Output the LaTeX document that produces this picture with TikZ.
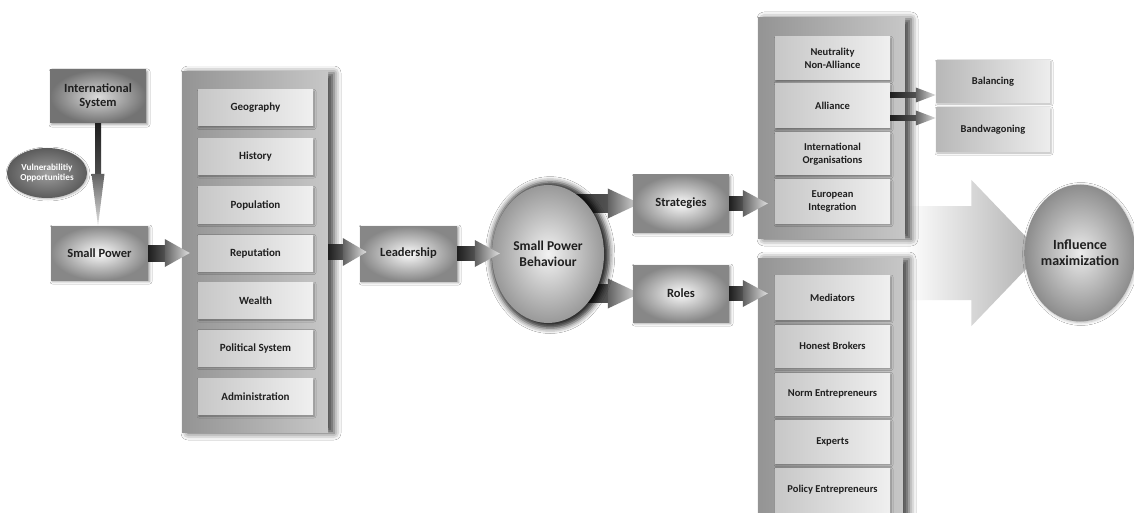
\documentclass[tikz,border=0pt]{standalone}
\usepackage{fontspec}
\setmainfont{Carlito}
\usetikzlibrary{calc,shadows.blur,shapes.geometric}
\pgfdeclarelayer{bg}
\pgfsetlayers{bg,main}
\tikzset{
  basebox/.style={rectangle, inner sep=0pt, align=center, text=black!88},
  gbox/.style={basebox, inner color=black!2, outer color=black!47,
    font=\bfseries\fontsize{12.5}{14}\selectfont,
    blur shadow={shadow xshift=1.5pt, shadow yshift=-1.5pt, shadow blur radius=2.5pt, shadow opacity=40}},
  outerbox/.style={basebox, left color=black!42, right color=black!22,
    blur shadow={shadow xshift=6pt, shadow yshift=-1pt, shadow blur radius=7pt, shadow opacity=75}},
  itembox/.style={basebox, left color=black!22, right color=black!6,
    font=\bfseries\fontsize{11}{12.5}\selectfont,
    minimum width=115pt,
    blur shadow={shadow xshift=1pt, shadow yshift=-1.5pt, shadow blur radius=2pt, shadow opacity=35}},
  sidebox/.style={basebox, left color=black!28, right color=black!7,
    font=\bfseries\fontsize{10.5}{12}\selectfont,
    minimum width=114pt,
    blur shadow={shadow xshift=1pt, shadow yshift=-1pt, shadow blur radius=2pt, shadow opacity=30}},
  ball/.style={ellipse, inner sep=0pt, align=center, text=black!88},
}
% horizontal fat arrow: start, end, shaft half width, head half width, head length
\newcommand\fatarrow[5]{%
  \shade[left color=black!88, right color=black!68] let \p1=(#1), \p2=(#2) in
    (\x1,{\y1-#3pt}) -- ({\x2-#5pt},{\y1-#3pt}) -- ({\x2-#5pt},{\y1+#3pt}) -- (\x1,{\y1+#3pt}) -- cycle;
  \shade[left color=black!62, right color=black!12] let \p1=(#1), \p2=(#2) in
    ({\x2-#5pt},{\y1-#4pt}) -- (\x2,\y1) -- ({\x2-#5pt},{\y1+#4pt}) -- cycle;
}
% vertical fat arrow (downwards)
\newcommand\fatarrowv[5]{%
  \shade[top color=black!88, bottom color=black!70] let \p1=(#1), \p2=(#2) in
    ({\x1-#3pt},\y1) -- ({\x1+#3pt},\y1) -- ({\x1+#3pt},{\y2+#5pt}) -- ({\x1-#3pt},{\y2+#5pt}) -- cycle;
  \shade[top color=black!62, bottom color=black!12] let \p1=(#1), \p2=(#2) in
    ({\x1-#4pt},{\y2+#5pt}) -- (\x1,\y2) -- ({\x1+#4pt},{\y2+#5pt}) -- cycle;
}
\begin{document}
\begin{tikzpicture}[x=1pt,y=-1pt]
\useasboundingbox (0,0) rectangle (1134,513);

% left column
\node[gbox, inner color=black!14, outer color=black!55, minimum width=96pt, minimum height=53pt] (intl) at (98,96.5) {International\\System};
\node[gbox, minimum width=97pt, minimum height=54pt] (smallp) at (99.5,253) {Small Power};
\node[ball, minimum width=80pt, minimum height=50pt, inner color=black!38, outer color=black!64, text=white,
  font=\bfseries\fontsize{9.2}{10.5}\selectfont,
  blur shadow={shadow xshift=1pt, shadow yshift=-1pt, shadow blur radius=2pt, shadow opacity=30}] (vuln) at (47,173) {Vulnerabilitiy\\Opportunities};

% factors
\node[outerbox, minimum width=146pt, minimum height=360pt] (fac) at (255,252) {};
\node[itembox, minimum height=36pt] (geo) at (255.5,108) {Geography};
\node[itembox, minimum height=36pt] (his) at (255.5,156.5) {History};
\node[itembox, minimum height=36pt] (pop) at (255.5,205) {Population};
\node[itembox, minimum height=36pt] (rep) at (255.5,253) {Reputation};
\node[itembox, minimum height=36pt] (wea) at (255.5,300.5) {Wealth};
\node[itembox, minimum height=36pt] (pol) at (255.5,348) {Political System};
\node[itembox, minimum height=36pt] (adm) at (255.5,396.5) {Administration};

% middle
\node[gbox, minimum width=97pt, minimum height=55pt] (lead) at (408.5,253.5) {Leadership};
\node[ball, minimum width=112pt, minimum height=138pt, inner color=black!5, outer color=black!40,
  font=\bfseries\fontsize{13.5}{15.5}\selectfont,
  blur shadow={shadow xshift=2pt, shadow yshift=-1pt, shadow scale=1.06, shadow blur radius=5pt, shadow opacity=85}] (beh) at (548,254) {Small Power\\Behaviour};
\node[gbox, minimum width=96pt, minimum height=57pt] (strategies) at (681,203.5) {Strategies};
\node[gbox, minimum width=96pt, minimum height=57pt] (rolesb) at (681,293.5) {Roles};

% strategies container
\node[outerbox, minimum width=147pt, minimum height=220pt] (strat) at (831.5,128) {};
\node[itembox, minimum height=43pt, font=\bfseries\fontsize{10.5}{12.5}\selectfont] (neu) at (832.5,58.5) {Neutrality\\Non-Alliance};
\node[itembox, minimum height=44pt, font=\bfseries\fontsize{10.5}{12.5}\selectfont] (ali) at (832.5,106) {Alliance};
\node[itembox, minimum height=42pt, font=\bfseries\fontsize{10.5}{12.5}\selectfont] (ino) at (832.5,154) {International\\Organisations};
\node[itembox, minimum height=43pt, font=\bfseries\fontsize{10.5}{12.5}\selectfont] (eur) at (832.5,201.5) {European\\Integration};

% roles container
\node[outerbox, minimum width=145pt, minimum height=282pt] (roles) at (830.5,399) {};
\node[itembox, minimum height=44pt, font=\bfseries\fontsize{10.5}{12.5}\selectfont] (med) at (832.5,297.5) {Mediators};
\node[itembox, minimum height=42pt, font=\bfseries\fontsize{10.5}{12.5}\selectfont] (hon) at (832.5,346) {Honest Brokers};
\node[itembox, minimum height=42pt, font=\bfseries\fontsize{10.5}{12.5}\selectfont] (nor) at (832.5,394) {Norm Entrepreneurs};
\node[itembox, minimum height=43pt, font=\bfseries\fontsize{10.5}{12.5}\selectfont] (exp) at (832.5,441.5) {Experts};
\node[itembox, minimum height=44pt, font=\bfseries\fontsize{10.5}{12.5}\selectfont] (pce) at (832.5,490) {Policy Entrepreneurs};

% balancing
\node[sidebox, minimum height=42pt] (bal) at (993,82) {Balancing};
\node[sidebox, minimum height=44pt] (band) at (993,130) {Bandwagoning};

% influence
\node[ball, minimum width=105pt, minimum height=137pt, inner color=black!8, outer color=black!45,
  font=\bfseries\fontsize{14}{16}\selectfont,
  blur shadow={shadow xshift=1pt, shadow yshift=-1pt, shadow blur radius=3pt, shadow opacity=30}] (infl) at (1080,253) {Influence\\maximization};

% arrows behind
\begin{pgfonlayer}{bg}
  \fill[white] (0,0) rectangle (1134,513);
  \coordinate (bigs) at (strat.east |- infl.center);
  \coordinate (bige) at ($(infl.west)+(17,0)$);
  \shade[left color=white, right color=black!32] let \p1=(bigs), \p2=(bige) in
    (\x1,{\y1-47pt}) -- ({\x2-70pt},{\y1-47pt}) -- ({\x2-70pt},{\y1-73pt}) -- (\x2,\y1)
    -- ({\x2-70pt},{\y1+73pt}) -- ({\x2-70pt},{\y1+47pt}) -- (\x1,{\y1+47pt}) -- cycle;
  \fatarrow{beh.center |- strategies.west}{$(strategies.west)+(7,0)$}{9}{15}{32}
  \fatarrow{beh.center |- rolesb.west}{$(rolesb.west)+(7,0)$}{9}{15}{32}
\end{pgfonlayer}

% arrows
\fatarrowv{intl.south}{smallp.north}{3}{6.5}{52}
\fatarrow{smallp.east}{$(fac.west)+(8,0)$}{8}{14}{25}
\fatarrow{fac.east}{$(lead.west)+(7,0)$}{7.5}{14}{24}
\fatarrow{lead.east}{$(beh.west)+(8,0)$}{7}{13.5}{25}
\fatarrow{strategies.east}{$(strat.west |- strategies.east)+(10,0)$}{7}{13.5}{25}
\fatarrow{rolesb.east}{$(roles.west |- rolesb.east)+(10,0)$}{7}{13.5}{25}
\coordinate (a1) at ($(ali.east)+(0,-11)$);
\coordinate (a2) at ($(ali.east)+(0,12)$);
\fatarrow{a1}{bal.west |- a1}{2.5}{7.5}{20}
\fatarrow{a2}{band.west |- a2}{2.5}{7.5}{20}
\end{tikzpicture}
\end{document}
